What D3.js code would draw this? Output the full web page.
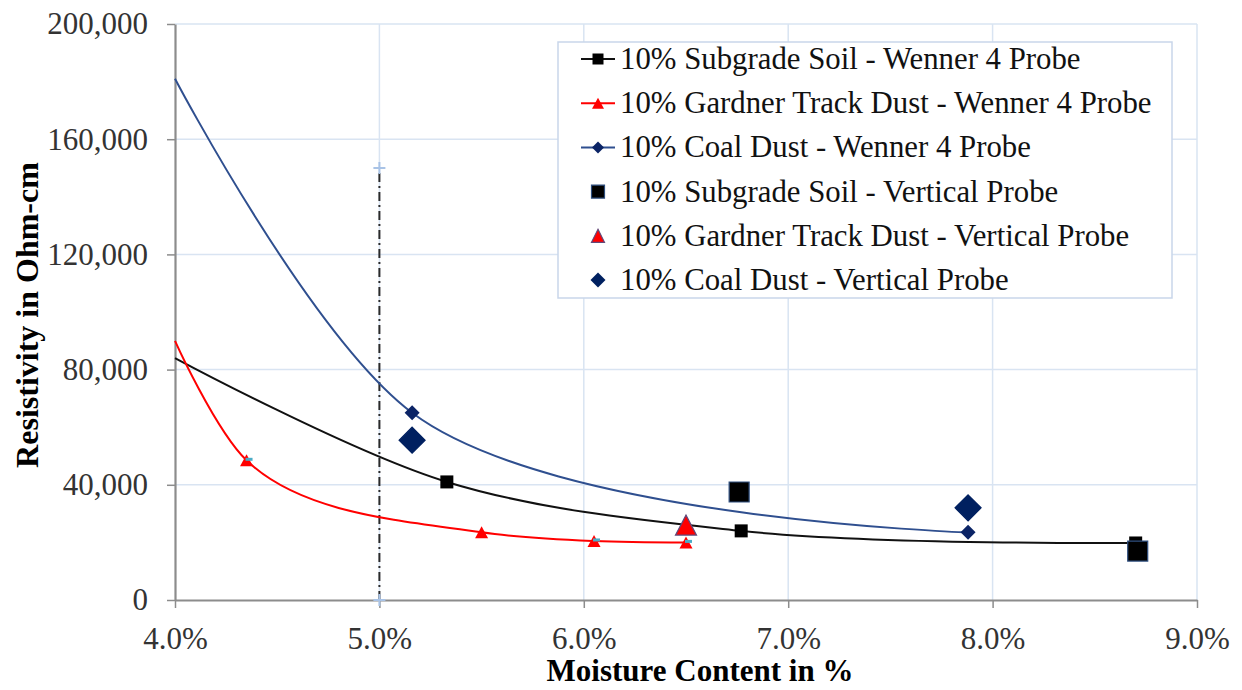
<!DOCTYPE html>
<html>
<head>
<meta charset="utf-8">
<script src="https://cdn.jsdelivr.net/npm/d3@7"></script>
<style>
  body { margin: 0; background: #ffffff; }
  svg { display: block; }
</style>
</head>
<body>
<svg id="chart" width="1242" height="690"></svg>
<script>
// Moisture content (%) and resistivity (Ohm-cm) readings
const moistureTicks = [4.0, 5.0, 6.0, 7.0, 8.0, 9.0];
const resistivityTicks = [0, 40000, 80000, 120000, 160000, 200000];

// Wenner 4 probe readings: [moisture %, resistivity]
const subgradeWenner = [[5.33, 41000], [6.77, 24000], [8.70, 19800]];
const gardnerWenner  = [[4.35, 48500], [5.50, 23500], [6.05, 20500], [6.50, 20000]];
const coalWenner     = [[5.16, 65000], [7.88, 23500]];

// Resistivity at 4.0 % moisture where each smoothed Wenner line begins
const wennerLineStart = [84000, 90000, 181000];

// Vertical probe readings
const subgradeVertical = [[6.76, 37500], [8.71, 17000]];
const gardnerVertical  = [[6.50, 26000]];
const coalVertical     = [[5.16, 55500], [7.88, 32000]];

// Small dash marks sitting on some of the Gardner readings
const gardnerDash = [[4.35, 48500], [6.05, 20500], [6.50, 20000]];

// 5.0 % moisture reference line
const referenceLine = [[5.0, 0], [5.0, 150000]];

const legendLabels = [
  "10% Subgrade Soil - Wenner 4 Probe",
  "10% Gardner Track Dust - Wenner 4 Probe",
  "10% Coal Dust - Wenner 4 Probe",
  "10% Subgrade Soil - Vertical Probe",
  "10% Gardner Track Dust - Vertical Probe",
  "10% Coal Dust - Vertical Probe"
];

const FONT = "'Liberation Serif', 'Times New Roman', serif";
const svg = d3.select("#chart");

const x = d3.scaleLinear().domain([4, 9]).range([175, 1197]);
const y = d3.scaleLinear().domain([0, 200000]).range([600, 24]);

// marker shapes
const shape = {
  square: s => { const h = s / 2; return `M${-h},${-h}H${h}V${h}H${-h}Z`; },
  diamond: s => { const h = s / 2; return `M0,${-h}L${h},0L0,${h}L${-h},0Z`; },
  triangle: (w, t) => `M0,${-t / 2}L${w / 2},${t / 2}L${-w / 2},${t / 2}Z`
};

// gridlines
const grid = svg.append("g").attr("stroke", "#d9e4f2").attr("stroke-width", 1.5);
grid.selectAll("line.h").data(resistivityTicks.slice(1)).join("line")
  .attr("x1", x(4)).attr("x2", x(9))
  .attr("y1", d => y(d)).attr("y2", d => y(d));
grid.selectAll("line.v").data(moistureTicks.slice(1)).join("line")
  .attr("x1", d => x(d)).attr("x2", d => x(d))
  .attr("y1", y(0)).attr("y2", y(200000));

// axes
const fmtPct = d => d3.format(".1f")(d) + "%";
const xAxis = svg.append("g").attr("transform", `translate(0,${y(0)})`)
  .call(d3.axisBottom(x).tickValues(moistureTicks).tickFormat(fmtPct)
    .tickSize(8).tickSizeOuter(0).tickPadding(19));
const yAxis = svg.append("g").attr("transform", `translate(${x(4)},0)`)
  .call(d3.axisLeft(y).tickValues(resistivityTicks).tickFormat(d3.format(","))
    .tickSize(8).tickSizeOuter(0).tickPadding(19));
[xAxis, yAxis].forEach(g => {
  g.attr("font-family", FONT);
  g.select(".domain").attr("stroke", "#8c8c8c").attr("stroke-width", 2.2);
  g.selectAll(".tick line").attr("stroke", "#8c8c8c").attr("stroke-width", 1.5);
  g.selectAll(".tick text").attr("fill", "#333333")
    .style("font-family", FONT).style("font-size", "31px");
});

// reference line at 5.0 %
svg.append("path")
  .datum(referenceLine)
  .attr("d", d3.line().x(d => x(d[0])).y(d => y(d[1])))
  .attr("fill", "none").attr("stroke", "#2a2a2a").attr("stroke-width", 2)
  .attr("stroke-dasharray", "9,4,2,4");
svg.selectAll("path.plus").data(referenceLine).join("path")
  .attr("transform", d => `translate(${x(d[0])},${y(d[1])})`)
  .attr("d", "M-6,0H6M0,-6V6")
  .attr("stroke", "#a9c3e6").attr("stroke-width", 2);

// Wenner 4 probe smoothed lines
const smooth = d3.line().x(d => x(d[0])).y(d => y(d[1])).curve(d3.curveCatmullRom.alpha(1));
const wennerSeries = [
  { pts: subgradeWenner, color: "#111111", width: 2, mark: shape.square(13), fill: "#000000" },
  { pts: gardnerWenner, color: "#ff0000", width: 2, mark: shape.triangle(13, 12), fill: "#ff0000" },
  { pts: coalWenner, color: "#2f4f8f", width: 2, mark: shape.diamond(15), fill: "#0b2466" }
];
wennerSeries.forEach((s, i) => {
  const linePts = [[4.0, wennerLineStart[i]]].concat(s.pts);
  svg.append("path").datum(linePts).attr("d", smooth)
    .attr("fill", "none").attr("stroke", s.color).attr("stroke-width", s.width);
});
wennerSeries.forEach(s => {
  svg.append("g").selectAll("path").data(s.pts).join("path")
    .attr("transform", d => `translate(${x(d[0])},${y(d[1])})`)
    .attr("d", s.mark).attr("fill", s.fill);
});
svg.append("g").selectAll("rect").data(gardnerDash).join("rect")
  .attr("x", d => x(d[0]) - 1).attr("y", d => y(d[1]) - 2.5)
  .attr("width", 7).attr("height", 3).attr("fill", "#4bacc6");

// Vertical probe markers
const verticalSeries = [
  { pts: subgradeVertical, mark: shape.square(20), fill: "#000000", stroke: "#2f4f7f" },
  { pts: gardnerVertical, mark: shape.triangle(21, 20), fill: "#ff0000", stroke: "#604a7b" },
  { pts: coalVertical, mark: shape.diamond(26), fill: "#002060", stroke: "#002060" }
];
verticalSeries.forEach(s => {
  svg.append("g").selectAll("path").data(s.pts).join("path")
    .attr("transform", d => `translate(${x(d[0])},${y(d[1])})`)
    .attr("d", s.mark).attr("fill", s.fill)
    .attr("stroke", s.stroke).attr("stroke-width", 1.2);
});

// axis titles
svg.append("text")
  .attr("x", 700).attr("y", 681).attr("text-anchor", "middle")
  .style("font-family", FONT).style("font-size", "31px").style("font-weight", "bold")
  .text("Moisture Content in %");
svg.append("text")
  .attr("transform", "translate(38,315) rotate(-90)").attr("text-anchor", "middle")
  .style("font-family", FONT).style("font-size", "32px").style("font-weight", "bold")
  .text("Resistivity in Ohm-cm");

// legend
const legend = svg.append("g");
legend.append("rect")
  .attr("x", 558).attr("y", 42).attr("width", 614).attr("height", 256)
  .attr("fill", "#ffffff").attr("stroke", "#c9d6ea").attr("stroke-width", 1.5);
const legendSymbols = [
  { line: "#111111", mark: shape.square(11), fill: "#000000", stroke: "none" },
  { line: "#ff0000", mark: shape.triangle(12, 11), fill: "#ff0000", stroke: "none" },
  { line: "#2f4f8f", mark: shape.diamond(12), fill: "#0b2466", stroke: "none" },
  { line: null, mark: shape.square(13), fill: "#000000", stroke: "#2f4f7f" },
  { line: null, mark: shape.triangle(13, 13), fill: "#ff0000", stroke: "#604a7b" },
  { line: null, mark: shape.diamond(15), fill: "#002060", stroke: "none" }
];
const rows = legend.selectAll("g.row").data(legendLabels).join("g")
  .attr("transform", (d, i) => `translate(0,${59 + i * 44.2})`);
rows.each(function (d, i) {
  const g = d3.select(this), s = legendSymbols[i];
  if (s.line) {
    g.append("line").attr("x1", 581).attr("x2", 615).attr("y1", 0).attr("y2", 0)
      .attr("stroke", s.line).attr("stroke-width", 2);
  }
  g.append("path").attr("transform", "translate(598,0)").attr("d", s.mark)
    .attr("fill", s.fill).attr("stroke", s.stroke).attr("stroke-width", 1.2);
  g.append("text").attr("x", 620).attr("y", 10)
    .style("font-family", FONT).style("font-size", "30.8px").attr("fill", "#111111")
    .text(d);
});
</script>
</body>
</html>
